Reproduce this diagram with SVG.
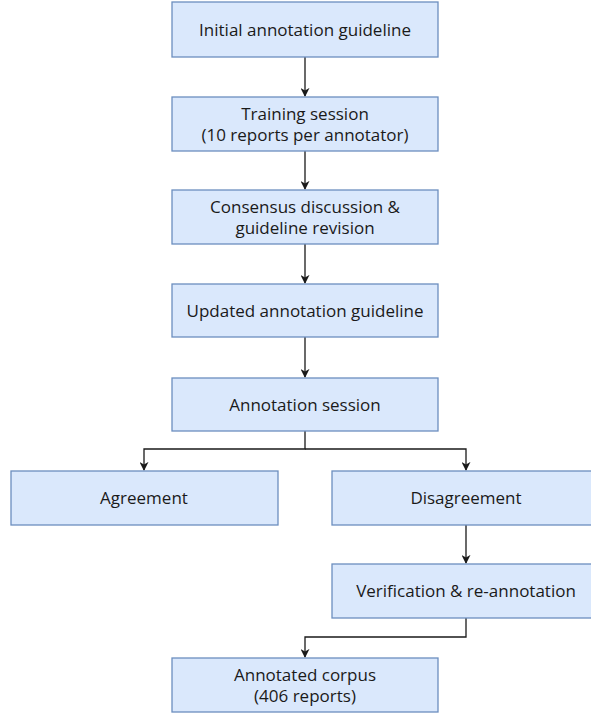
<svg xmlns="http://www.w3.org/2000/svg" width="591" height="715" viewBox="0 0 591 715">
<style>
.box{fill:#dae8fc;stroke:#6c8ebf;stroke-width:1.3}
.lbl{font-family:"Open Sans",Lato,"Liberation Sans",sans-serif;font-size:17px;fill:#1a1a1a;text-anchor:middle}
.edge{fill:none;stroke:#1a1a1a;stroke-width:1.3}
</style>
<defs>
<marker id="arr" viewBox="0 0 10 10" refX="9" refY="5" markerWidth="9" markerHeight="9" markerUnits="userSpaceOnUse" orient="auto">
<path d="M0,0 L10,5 L0,10 L3,5 Z" fill="#1a1a1a"/>
</marker>
</defs>
<rect width="591" height="715" fill="#ffffff"/>
<g id="connectors">
<path class="edge" d="M305,57 V96" marker-end="url(#arr)"/>
<path class="edge" d="M305,151 V189" marker-end="url(#arr)"/>
<path class="edge" d="M305,244 V283" marker-end="url(#arr)"/>
<path class="edge" d="M305,337 V377" marker-end="url(#arr)"/>
<path class="edge" d="M305,431 V449 H144 V470" marker-end="url(#arr)"/>
<path class="edge" d="M305,449 H466 V470" marker-end="url(#arr)"/>
<path class="edge" d="M466,525 V563" marker-end="url(#arr)"/>
<path class="edge" d="M466,618 V637 H305 V657" marker-end="url(#arr)"/>
</g>
<g id="n1"><rect class="box" x="172" y="2" width="266" height="55"/><text class="lbl" x="305" y="36">Initial annotation guideline</text></g>
<g id="n2"><rect class="box" x="172" y="97" width="266" height="54"/><text class="lbl" x="305" y="120">Training session</text><text class="lbl" x="305" y="141">(10 reports per annotator)</text></g>
<g id="n3"><rect class="box" x="172" y="190" width="266" height="54"/><text class="lbl" x="305" y="213">Consensus discussion &amp;</text><text class="lbl" x="305" y="234">guideline revision</text></g>
<g id="n4"><rect class="box" x="172" y="284" width="266" height="53"/><text class="lbl" x="305" y="317">Updated annotation guideline</text></g>
<g id="n5"><rect class="box" x="172" y="378" width="266" height="53"/><text class="lbl" x="305" y="411">Annotation session</text></g>
<g id="n6"><rect class="box" x="11" y="471" width="267" height="54"/><text class="lbl" x="144" y="504">Agreement</text></g>
<g id="n7"><rect class="box" x="332" y="471" width="268" height="54"/><text class="lbl" x="466" y="504">Disagreement</text></g>
<g id="n8"><rect class="box" x="332" y="564" width="268" height="54"/><text class="lbl" x="466" y="597">Verification &amp; re-annotation</text></g>
<g id="n9"><rect class="box" x="172" y="658" width="266" height="54"/><text class="lbl" x="305" y="681">Annotated corpus</text><text class="lbl" x="305" y="702">(406 reports)</text></g>
</svg>
